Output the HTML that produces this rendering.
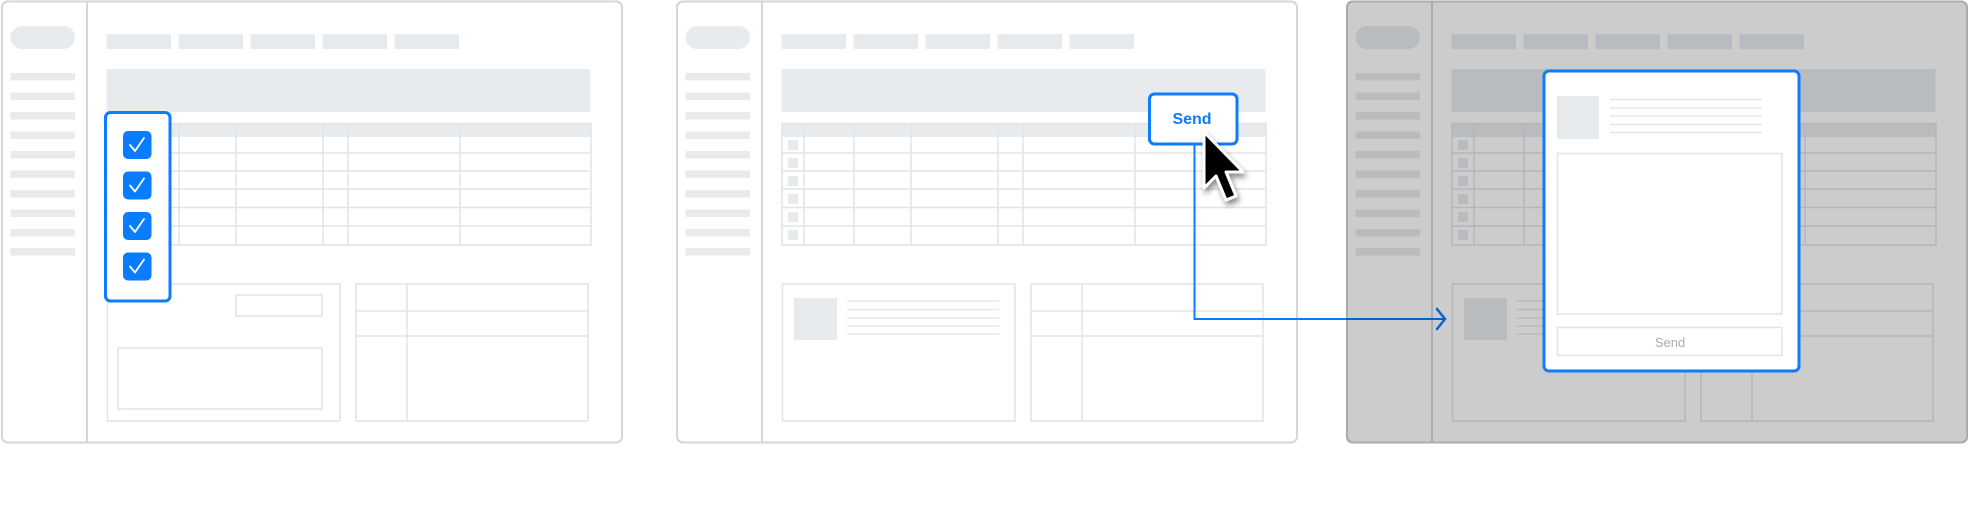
<!DOCTYPE html>
<html><head><meta charset="utf-8"><style>
html,body{margin:0;padding:0;background:#fff;width:1971px;height:518px;overflow:hidden}
svg{display:block}
</style></head><body>
<svg width="1971" height="518" viewBox="0 0 1971 518" xmlns="http://www.w3.org/2000/svg" font-family="Liberation Sans, sans-serif">
<defs>
<filter id="glow" x="-30%" y="-30%" width="160%" height="160%"><feGaussianBlur in="SourceAlpha" stdDeviation="6"/><feFlood flood-color="#0a7cff" flood-opacity="0.35"/><feComposite operator="in" in2="SourceAlpha"/><feMerge><feMergeNode/><feMergeNode in="SourceGraphic"/></feMerge></filter>
<filter id="sh" x="-50%" y="-50%" width="200%" height="200%"><feDropShadow dx="2" dy="4" stdDeviation="3" flood-color="#000" flood-opacity="0.45"/></filter>
<g id="base">
  <rect x="2" y="1.5" width="620" height="441" rx="6" fill="#fff" stroke="#d3d6db" stroke-width="2"/>
  <line x1="87" y1="2" x2="87" y2="442" stroke="#d3d6db" stroke-width="2"/>
  <rect x="10.5" y="26" width="64.5" height="23" rx="11.5" fill="#e8ebee"/>
  <g fill="#e8ebee">
    <rect x="10.5" y="73" width="64.5" height="7.5"/><rect x="10.5" y="92.5" width="64.5" height="7.5"/>
    <rect x="10.5" y="112" width="64.5" height="7.5"/><rect x="10.5" y="131.5" width="64.5" height="7.5"/>
    <rect x="10.5" y="151" width="64.5" height="7.5"/><rect x="10.5" y="170.5" width="64.5" height="7.5"/>
    <rect x="10.5" y="190" width="64.5" height="7.5"/><rect x="10.5" y="209.5" width="64.5" height="7.5"/>
    <rect x="10.5" y="229" width="64.5" height="7.5"/><rect x="10.5" y="248" width="64.5" height="7.5"/>
    <rect x="106.5" y="34" width="64.5" height="15"/><rect x="178.5" y="34" width="64.5" height="15"/>
    <rect x="250.5" y="34" width="64.5" height="15"/><rect x="322.5" y="34" width="64.5" height="15"/>
    <rect x="394.5" y="34" width="64.5" height="15"/>
    <rect x="106.5" y="69" width="484" height="43"/>
    <rect x="107" y="123" width="484" height="14"/>
  </g>
  <g fill="none" stroke="#e1e4e8" stroke-width="1.5">
    <rect x="107" y="123.5" width="484" height="121.5"/>
    <line x1="107" y1="153" x2="591" y2="153"/><line x1="107" y1="171" x2="591" y2="171"/>
    <line x1="107" y1="189" x2="591" y2="189"/><line x1="107" y1="207.5" x2="591" y2="207.5"/>
    <line x1="107" y1="226" x2="591" y2="226"/>
    <line x1="129" y1="123" x2="129" y2="245"/><line x1="179" y1="123" x2="179" y2="245"/>
    <line x1="236" y1="123" x2="236" y2="245"/><line x1="323" y1="123" x2="323" y2="245"/>
    <line x1="348" y1="123" x2="348" y2="245"/><line x1="460" y1="123" x2="460" y2="245"/>
    <rect x="107.5" y="284" width="232.5" height="137"/>
    <rect x="356" y="284" width="232" height="137"/>
    <line x1="407" y1="284" x2="407" y2="421"/>
    <line x1="356" y1="311" x2="588" y2="311"/><line x1="356" y1="336" x2="588" y2="336"/>
  </g>
</g>
<g id="extra2">
  <g fill="#e8ebee">
    <rect x="113" y="140" width="10" height="10"/><rect x="113" y="158" width="10" height="10"/>
    <rect x="113" y="176" width="10" height="10"/><rect x="113" y="194" width="10" height="10"/>
    <rect x="113" y="212" width="10" height="10"/><rect x="113" y="230" width="10" height="10"/>
    <rect x="119" y="298" width="43" height="42"/>
  </g>
  <g stroke="#e1e4e8" stroke-width="1.2">
    <line x1="172" y1="301" x2="324" y2="301"/><line x1="172" y1="309.5" x2="324" y2="309.5"/>
    <line x1="172" y1="318" x2="324" y2="318"/><line x1="172" y1="326" x2="324" y2="326"/>
    <line x1="172" y1="334" x2="324" y2="334"/>
  </g>
</g>
</defs>

<!-- Frame 1 -->
<use href="#base"/>
<g fill="none" stroke="#e1e4e8" stroke-width="1.5">
  <rect x="236" y="295" width="86" height="21"/>
  <rect x="118" y="348" width="204" height="61"/>
</g>
<rect x="105.5" y="112.5" width="64.5" height="188.5" rx="5" fill="#fff" stroke="#0a7cff" stroke-width="3" filter="url(#glow)"/>
<g>
  <rect x="123" y="131" width="28.5" height="28" rx="5" fill="#0a7cff"/>
  <rect x="123" y="171.5" width="28.5" height="28" rx="5" fill="#0a7cff"/>
  <rect x="123" y="212" width="28.5" height="28" rx="5" fill="#0a7cff"/>
  <rect x="123" y="252.5" width="28.5" height="28" rx="5" fill="#0a7cff"/>
  <g fill="none" stroke="#fff" stroke-width="1.8" stroke-linecap="round" stroke-linejoin="round">
    <polyline points="130,145 135,151 144,138"/>
    <polyline points="130,185.5 135,191.5 144,178.5"/>
    <polyline points="130,226 135,232 144,219"/>
    <polyline points="130,266.5 135,272.5 144,259.5"/>
  </g>
</g>

<!-- Frame 2 -->
<g transform="translate(675,0)"><use href="#base"/><use href="#extra2"/></g>

<!-- Frame 3 -->
<g transform="translate(1345,0)"><use href="#base"/><use href="#extra2"/></g>

<!-- connector -->
<polyline points="1194.5,140 1194.5,319 1444,319" fill="none" stroke="#0a7cff" stroke-width="2"/>
<polyline points="1437,309 1445,319 1437,329" fill="none" stroke="#0a7cff" stroke-width="2.5" stroke-linecap="round"/>

<!-- overlay on frame 3 -->
<rect x="1346" y="0.5" width="622" height="443" rx="6" fill="#000" fill-opacity="0.2"/>

<!-- modal -->
<rect x="1544" y="71" width="255" height="300" rx="5" fill="#fff" stroke="#0a7cff" stroke-width="3" filter="url(#glow)"/>
<rect x="1557" y="96" width="42" height="43" fill="#e8ebee"/>
<g stroke="#e1e4e8" stroke-width="1.2">
  <line x1="1610" y1="99.5" x2="1762" y2="99.5"/><line x1="1610" y1="108" x2="1762" y2="108"/>
  <line x1="1610" y1="116" x2="1762" y2="116"/><line x1="1610" y1="124.5" x2="1762" y2="124.5"/>
  <line x1="1610" y1="132.5" x2="1762" y2="132.5"/>
</g>
<rect x="1557.5" y="153.5" width="224.5" height="160.5" fill="#fff" stroke="#e1e4e8" stroke-width="1.5"/>
<rect x="1557.5" y="327.5" width="224.5" height="28" fill="#fff" stroke="#e1e4e8" stroke-width="1.5"/>
<text x="1670" y="347" font-size="13" fill="#a9adb3" text-anchor="middle">Send</text>

<!-- send button frame2 -->
<rect x="1149.5" y="94" width="87.5" height="50" rx="5" fill="#fff" stroke="#0a7cff" stroke-width="3" filter="url(#glow)"/>
<text x="1192" y="124" font-size="16" font-weight="bold" fill="#0a7cff" text-anchor="middle">Send</text>

<!-- cursor -->
<path d="M1204,132 L1204,188 L1216,176 L1226,200 L1236,196 L1226,172 L1243,172 Z" fill="#000" stroke="#fff" stroke-width="3" stroke-linejoin="round" filter="url(#sh)"/>
</svg>
</body></html>
